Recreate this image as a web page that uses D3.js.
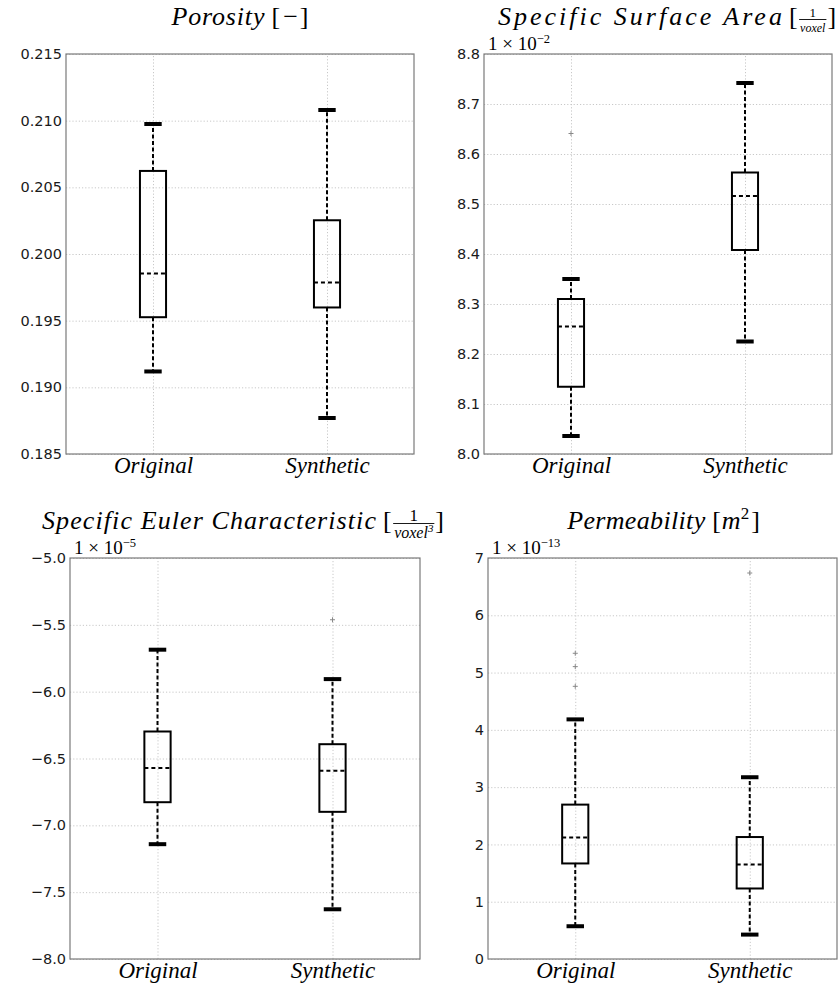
<!DOCTYPE html>
<html>
<head>
<meta charset="utf-8">
<script src="https://cdn.jsdelivr.net/npm/d3@7"></script>
<style>
  body { margin: 0; background: #fff; }
  svg { display: block; }
  .tick-label { font-family: "DejaVu Sans", sans-serif; font-size: 14.5px; fill: #1a1a1a; }
  .ttl { font-family: "Liberation Serif", "Times New Roman", serif; font-style: italic; font-size: 26px; }
  .up { font-family: "Liberation Serif", "Times New Roman", serif; font-size: 26px; }
  .xlab { font-family: "Liberation Serif", "Times New Roman", serif; font-style: italic; font-size: 23px; }
  .offset { font-family: "Liberation Serif", "Times New Roman", serif; font-size: 19px; }
</style>
</head>
<body>
<svg id="chart" width="838" height="984"></svg>
<script>
const categories = ["Original", "Synthetic"];

// each box: [lower cap, q1, median, q3, upper cap]
const porosityBoxes = [
    [0.19119, 0.19526, 0.19854, 0.20623, 0.20975],
    [0.18770, 0.19599, 0.19786, 0.20253, 0.21080]
];
const porosityOutliers = [[], []];
const porosityTicks = [0.185, 0.190, 0.195, 0.200, 0.205, 0.210, 0.215];

const surfaceBoxes = [
    [8.036, 8.1345, 8.255, 8.310, 8.350],
    [8.225, 8.408, 8.516, 8.563, 8.742]
];
const surfaceOutliers = [[8.641], []];
const surfaceTicks = [8.0, 8.1, 8.2, 8.3, 8.4, 8.5, 8.6, 8.7, 8.8];

const eulerBoxes = [
    [-7.141, -6.827, -6.572, -6.298, -5.686],
    [-7.628, -6.899, -6.592, -6.393, -5.906]
];
const eulerOutliers = [[], [-5.462]];
const eulerTicks = [-8.0, -7.5, -7.0, -6.5, -6.0, -5.5, -5.0];

const permBoxes = [
    [0.572, 1.668, 2.123, 2.695, 4.183],
    [0.426, 1.231, 1.651, 2.129, 3.173]
];
const permOutliers = [[4.760, 5.104, 5.337], [6.738]];
const permTicks = [0, 1, 2, 3, 4, 5, 6, 7];

const svg = d3.select("#chart");

const panels = [
    { box: [66, 414, 54, 454], boxes: porosityBoxes, outliers: porosityOutliers, ticks: porosityTicks,
      fmt: d3.format(".3f"), offset: null,
      title: { word: "Porosity", len: 93, inner: "minus", dx: 0 } },
    { box: [484, 832, 54, 454], boxes: surfaceBoxes, outliers: surfaceOutliers, ticks: surfaceTicks,
      fmt: d3.format(".1f"), offset: "\u22122",
      title: { word: "Specific Surface Area", len: 284, inner: "frac", den: "voxel", sup: null,
               numSize: 13, denSize: 12, dx: 9 } },
    { box: [70, 420, 558, 959], boxes: eulerBoxes, outliers: eulerOutliers, ticks: eulerTicks,
      fmt: d3.format(".1f"), offset: "\u22125",
      title: { word: "Specific Euler Characteristic", len: 334, inner: "frac", den: "voxel", sup: "3",
               numSize: 17, denSize: 16, dx: -2 } },
    { box: [488, 837, 558, 959], boxes: permBoxes, outliers: permOutliers, ticks: permTicks,
      fmt: d3.format("d"), offset: "\u221213",
      title: { word: "Permeability", len: 138, inner: "m2", dx: 1 } }
];

function drawTitle(cx, base, t) {
    const g = svg.append("g");
    g.append("text").attr("class", "ttl")
        .attr("x", 0).attr("y", base)
        .attr("textLength", t.len).attr("lengthAdjust", "spacing")
        .text(t.word);
    let x = t.len + 7;
    const lb = g.append("text").attr("class", "up").attr("x", x).attr("y", base).text("[");
    x += lb.node().getComputedTextLength() + 1;

    if (t.inner === "frac") {
        const den = g.append("text")
            .attr("font-family", "Liberation Serif, Times New Roman, serif")
            .attr("font-style", "italic")
            .attr("font-size", t.denSize)
            .attr("y", base + t.denSize * 0.55);
        den.append("tspan").text(t.den);
        if (t.sup) den.append("tspan").attr("font-size", t.denSize * 0.68).attr("dy", -t.denSize * 0.38).text(t.sup);
        const w = den.node().getComputedTextLength();
        den.attr("x", x + 1.5);
        g.append("text")
            .attr("font-family", "Liberation Serif, Times New Roman, serif")
            .attr("font-size", t.numSize)
            .attr("text-anchor", "middle")
            .attr("x", x + 1.5 + w / 2).attr("y", base - 8.5)
            .text("1");
        g.append("line")
            .attr("x1", x + 0.5).attr("x2", x + w + 2.5)
            .attr("y1", base - 5.5).attr("y2", base - 5.5)
            .attr("stroke", "#000").attr("stroke-width", 0.9);
        x += w + 3.5;
    } else if (t.inner === "minus") {
        const m = g.append("text").attr("class", "up").attr("x", x + 2).attr("y", base).text("\u2212");
        x += m.node().getComputedTextLength() + 4;
    } else {
        const m = g.append("text").attr("class", "ttl").attr("x", x).attr("y", base);
        m.append("tspan").text("m");
        m.append("tspan").attr("font-size", 17).attr("font-style", "normal").attr("dy", -10).text("2");
        x += m.node().getComputedTextLength() + 2;
    }
    const rb = g.append("text").attr("class", "up").attr("x", x).attr("y", base).text("]");
    x += rb.node().getComputedTextLength();
    g.attr("transform", `translate(${cx + t.dx - x / 2},0)`);
}

panels.forEach(p => {
    const [x0, x1, y0, y1] = p.box;
    const xScale = d3.scaleLinear().domain([0.5, 2.5]).range([x0, x1]);
    const yScale = d3.scaleLinear()
        .domain([p.ticks[0], p.ticks[p.ticks.length - 1]])
        .range([y1, y0]);

    const g = svg.append("g");

    // grid
    g.append("g")
        .attr("transform", `translate(${x0},0)`)
        .call(d3.axisLeft(yScale).tickValues(p.ticks).tickSize(-(x1 - x0)).tickFormat(""))
        .call(s => s.select(".domain").remove())
        .call(s => s.selectAll("line").attr("stroke", "#c8c8c8").attr("stroke-dasharray", "1.2,2"));
    g.append("g")
        .attr("transform", `translate(0,${y1})`)
        .call(d3.axisBottom(xScale).tickValues([1, 2]).tickSize(-(y1 - y0)).tickFormat(""))
        .call(s => s.select(".domain").remove())
        .call(s => s.selectAll("line").attr("stroke", "#c8c8c8").attr("stroke-dasharray", "1.2,2"));

    // y tick labels
    g.append("g")
        .attr("transform", `translate(${x0},0)`)
        .call(d3.axisLeft(yScale).tickValues(p.ticks).tickSize(0).tickPadding(4).tickFormat(p.fmt))
        .call(s => s.select(".domain").remove())
        .call(s => s.selectAll("text").attr("class", "tick-label").attr("font-size", null).attr("font-family", null).attr("fill", null));

    // x tick labels
    g.append("g")
        .attr("transform", `translate(0,${y1})`)
        .call(d3.axisBottom(xScale).tickValues([1, 2]).tickSize(0).tickPadding(0)
            .tickFormat((d, i) => categories[i]))
        .call(s => s.select(".domain").remove())
        .call(s => s.selectAll("text").attr("class", "xlab").attr("dy", null).attr("y", 19)
            .attr("font-size", null).attr("font-family", null).attr("fill", "#000"));

    // frame
    g.append("rect")
        .attr("x", x0).attr("y", y0)
        .attr("width", x1 - x0).attr("height", y1 - y0)
        .attr("fill", "none").attr("stroke", "#7a7a7a").attr("stroke-width", 1.2);

    const bw = xScale(1.075) - xScale(1);
    const cw = xScale(1.05) - xScale(1);

    p.boxes.forEach((b, i) => {
        const cx = xScale(i + 1);
        const [lo, q1, med, q3, hi] = b;
        // whiskers
        g.append("line")
            .attr("x1", cx).attr("x2", cx).attr("y1", yScale(q3)).attr("y2", yScale(hi))
            .attr("stroke", "#000").attr("stroke-width", 2).attr("stroke-dasharray", "4,2.5");
        g.append("line")
            .attr("x1", cx).attr("x2", cx).attr("y1", yScale(q1)).attr("y2", yScale(lo))
            .attr("stroke", "#000").attr("stroke-width", 2).attr("stroke-dasharray", "4,2.5");
        // caps
        [lo, hi].forEach(v => {
            g.append("line")
                .attr("x1", cx - cw).attr("x2", cx + cw).attr("y1", yScale(v)).attr("y2", yScale(v))
                .attr("stroke", "#000").attr("stroke-width", 4);
        });
        // box
        g.append("rect")
            .attr("x", cx - bw).attr("y", yScale(q3))
            .attr("width", 2 * bw).attr("height", yScale(q1) - yScale(q3))
            .attr("fill", "none").attr("stroke", "#000").attr("stroke-width", 2);
        // median
        g.append("line")
            .attr("x1", cx - bw).attr("x2", cx + bw).attr("y1", yScale(med)).attr("y2", yScale(med))
            .attr("stroke", "#000").attr("stroke-width", 2).attr("stroke-dasharray", "4,3");
        // outliers
        p.outliers[i].forEach(v => {
            const y = yScale(v);
            g.append("path")
                .attr("d", `M${cx - 2.5},${y}H${cx + 2.5}M${cx},${y - 2.5}V${y + 2.5}`)
                .attr("stroke", "#888").attr("stroke-width", 1);
        });
    });

    // offset text
    if (p.offset) {
        const t = g.append("text").attr("class", "offset").attr("x", x0 + 4).attr("y", y0 - 4);
        t.append("tspan").text("1 \u00d7 10");
        t.append("tspan").attr("font-size", 12.5).attr("dy", -7).text(p.offset);
    }

    drawTitle((x0 + x1) / 2, y0 - 29, p.title);
});
</script>
</body>
</html>
